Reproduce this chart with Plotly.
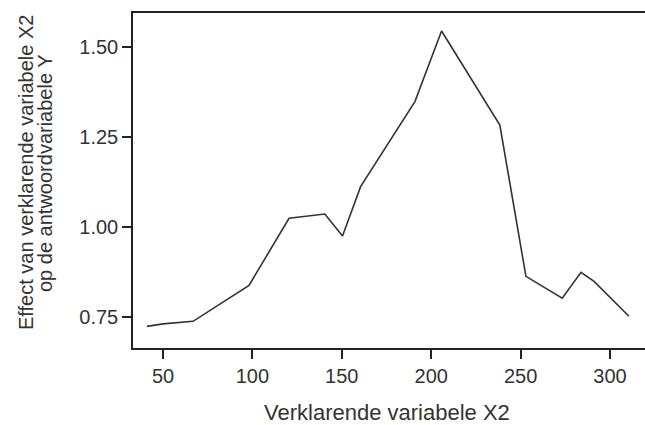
import plotly.graph_objects as go

# Data
x2 = [41.0, 50.0, 66.8, 98.1, 120.5, 140.5, 150.4, 160.5, 190.9, 205.8,
      238.4, 253.0, 273.3, 283.8, 291.1, 310.6]
effect = [0.725, 0.732, 0.739, 0.839, 1.025, 1.037, 0.976, 1.113, 1.349, 1.545,
          1.284, 0.864, 0.803, 0.875, 0.850, 0.753]
x_ticks = [50, 100, 150, 200, 250, 300]
y_ticks = [0.75, 1.00, 1.25, 1.50]
y_tick_labels = ["0.75", "1.00", "1.25", "1.50"]
x_title = "Verklarende variabele X2"
y_title_lines = ["Effect van verklarende variabele X2", "op de antwoordvariabele Y"]

font_family = "Liberation Sans, Arial, sans-serif"
axis_color = "#222222"
text_color = "#333333"

W, H = 645, 425
ML, MR, MT, MB = 133, 0, 13, 77
PW, PH = W - ML - MR, H - MT - MB

fig = go.Figure()
fig.add_trace(go.Scatter(
    x=x2, y=effect, mode="lines",
    line=dict(color="#333333", width=1.6),
    hoverinfo="skip", showlegend=False,
))

fig.update_layout(
    width=W, height=H,
    margin=dict(l=ML, r=MR, t=MT, b=MB, autoexpand=False),
    paper_bgcolor="white", plot_bgcolor="white",
    font=dict(family=font_family, size=20, color=text_color),
)
fig.update_xaxes(
    range=[33.2, 319.6], tickvals=x_ticks, automargin=False,
    showgrid=False, zeroline=False,
    showline=True, linecolor=axis_color, linewidth=1.5, mirror=True,
    ticks="outside", ticklen=9, tickwidth=1.5, tickcolor=axis_color,
    tickfont=dict(size=20, color=text_color),
)
fig.update_yaxes(
    range=[0.665, 1.595], tickvals=y_ticks, ticktext=y_tick_labels, automargin=False,
    showgrid=False, zeroline=False,
    showline=True, linecolor=axis_color, linewidth=1.5, mirror=False,
    ticks="outside", ticklen=9, tickwidth=1.5, tickcolor=axis_color,
    tickfont=dict(size=20, color=text_color),
)

def px_x(px):
    return (px - ML) / PW

def px_y(py):
    return (H - MB - py) / PH

# x-axis title
fig.add_annotation(
    text=x_title, xref="paper", yref="paper",
    x=px_x(386.5), y=px_y(412), xanchor="center", yanchor="middle",
    showarrow=False, font=dict(size=22, color=text_color, family=font_family),
)
# y-axis title, two tightly spaced lines
for cx, line in zip([26, 45], y_title_lines):
    fig.add_annotation(
        text=line, xref="paper", yref="paper",
        x=px_x(cx), y=px_y(173), xanchor="center", yanchor="middle",
        textangle=-90, showarrow=False,
        font=dict(size=20, color=text_color, family=font_family),
    )

fig.write_html("out.html",
               config={"displayModeBar": False},
               post_script="document.body.style.margin='0';document.body.style.overflow='hidden';")
